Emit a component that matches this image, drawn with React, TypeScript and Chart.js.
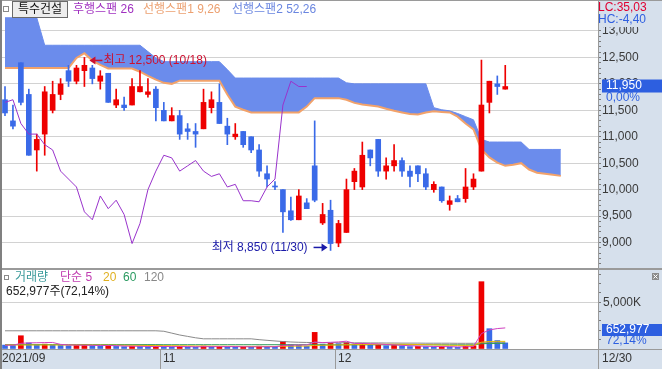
import React, { useEffect, useRef } from 'react';
import { Chart, registerables } from 'chart.js';

Chart.register(...registerables);

// ---------------- data ----------------
const stockName = '특수건설';
const dateLabels = ['2021/09', '11', '12'];
const dateLabelStartIdx = [0, 20, 42];
const lastDateLabel = '12/30';

const opens = [
  11700, 11300, 12400, 11800, 10750, 11050, 11500, 11800, 12250, 12050,
  12250, 12300, 12050, 12200, 11600, 11600, 11600, 11850, 11800, 11900,
  11500, 11300, 11400, 11150, 11100, 11150, 11550, 11650, 11200, 11000,
  11100, 11000, 10750, 10300, 10050, 10000, 9600, 9430, 9750, 10450,
  9370, 9610, 8990, 9190, 10150, 10050, 10750, 10950, 10350, 10450,
  10550, 10350, 10450, 10300, 10000, 10050, 9720, 9830, 9830, 10050,
  10350, 11650, 12000, 11900,
];
const highs = [
  11950, 11600, 12400, 11900, 11050, 11950, 12050, 12100, 12350, 12350,
  12500, 12350, 12250, 12200, 11900, 11750, 12100, 12250, 12100, 11950,
  11650, 11550, 11500, 11250, 11250, 11900, 11850, 12000, 11350, 11250,
  11100, 11000, 10850, 10450, 10150, 10000, 9860, 10000, 9830, 11300,
  9740, 9800, 9420, 10200, 10400, 10900, 10750, 10950, 10600, 10850,
  10600, 10450, 10450, 10400, 10150, 10050, 9880, 9890, 10400, 10300,
  12450, 12050, 12150, 12350,
];
const lows = [
  11400, 11150, 11600, 10650, 10350, 10650, 11450, 11700, 11950, 12000,
  11950, 12000, 11900, 11650, 11550, 11500, 11600, 11850, 11750, 11300,
  11300, 11300, 10950, 10950, 10800, 11150, 11450, 11250, 10850, 10950,
  10800, 10700, 10250, 10050, 10000, 9190, 9420, 9430, 9640, 9770,
  9340, 8850, 8920, 9190, 10000, 10000, 10450, 10250, 10200, 10350,
  10250, 10050, 10150, 10000, 9950, 9760, 9610, 9770, 9760, 10000,
  10350, 11450, 11800, 11900,
];
const closes = [
  11450, 11200, 11650, 10650, 10950, 11850, 11800, 12000, 12050, 12300,
  12350, 12100, 12150, 11650, 11700, 11550, 11950, 11950, 11850, 11550,
  11300, 11400, 11050, 11100, 11050, 11650, 11700, 11250, 11050, 11050,
  10850, 10750, 10350, 10200, 10050, 9580, 9430, 9880, 9640, 9800,
  9530, 8980, 9360, 10000, 10350, 10650, 10600, 10350, 10450, 10550,
  10350, 10250, 10300, 10050, 10100, 9790, 9790, 9770, 10050, 10200,
  11600, 12050, 11950, 11950,
];

// 선행스팬1 (lower, orange edge) and 선행스팬2 (upper) – shifted cloud, index 0..70
const leadSpan1 = [
  12300, 12300, 12300, 12300, 12300, 12300, 12300, 12300, 12300, 12490,
  12580, 12440, 12360, 12290, 12290, 12290, 12290, 12230, 12150, 12080,
  12020, 12000, 12060, 12060, 12060, 12060, 12060, 12060, 11800, 11570,
  11510, 11460, 11460, 11460, 11460, 11460, 11460, 11460, 11570, 11730,
  11730, 11730, 11730, 11700, 11640, 11610, 11590, 11570, 11530, 11490,
  11460, 11430, 11420, 11460, 11480, 11470, 11460, 11380, 11250, 11140,
  10760, 10610, 10510, 10450, 10470, 10500, 10380, 10320, 10300, 10280,
  10260,
];
const leadSpan2 = [
  13250, 13250, 13250, 13250, 13250, 12730, 12730, 12730, 12730, 12730,
  12730, 12730, 12730, 12730, 12730, 12730, 12730, 12730, 12610, 12490,
  12420, 12420, 12420, 12420, 12420, 12420, 12420, 12420, 12270, 12110,
  12110, 12110, 12110, 12110, 12110, 12110, 12110, 12110, 12110, 12110,
  12110, 12110, 12110, 12020, 12000, 12000, 12000, 12000, 12000, 12000,
  12000, 12000, 12000, 12000, 11550, 11510, 11490, 11440, 11380, 11320,
  10950, 10900, 10900, 10900, 10900, 10900, 10760, 10760, 10760, 10760,
  10760,
];

const volumes = [
  420000, 380000, 1420000, 650000, 480000, 520000, 430000, 380000, 350000, 400000,
  460000, 380000, 300000, 350000, 280000, 250000, 300000, 270000, 240000, 290000,
  260000, 230000, 280000, 220000, 200000, 310000, 260000, 280000, 240000, 200000,
  230000, 210000, 300000, 260000, 220000, 820000, 450000, 380000, 300000, 1780000,
  520000, 600000, 580000, 700000, 520000, 600000, 420000, 480000, 350000, 380000,
  300000, 260000, 290000, 250000, 230000, 270000, 220000, 180000, 300000, 350000,
  7207000, 2174000, 905140, 652977,
];
// moving averages of volume (thousands of shares)
const volMa5 = [
  410, 400, 604, 654, 670, 690, 700, 492, 432, 416,
  404, 394, 378, 378, 354, 312, 296, 290, 268, 270,
  272, 258, 260, 256, 238, 248, 254, 254, 258, 258,
  242, 232, 236, 240, 244, 362, 410, 426, 434, 746,
  686, 716, 756, 836, 584, 600, 564, 544, 474, 446,
  386, 354, 316, 296, 266, 260, 252, 230, 240, 264,
  1651, 2042, 2187, 2258,
];
const volMa20 = [
  430, 430, 430, 430, 430, 430, 430, 430, 430, 430,
  430, 425, 420, 415, 410, 400, 395, 385, 375, 370,
  360, 350, 345, 330, 320, 310, 300, 295, 290, 285,
  280, 275, 272, 270, 268, 295, 305, 310, 312, 385,
  400, 415, 430, 450, 462, 480, 488, 498, 503, 510,
  505, 495, 480, 460, 440, 420, 400, 390, 390, 390,
  724, 803, 819, 817,
];
const volMa60 = [
  470, 470, 470, 470, 470, 470, 470, 470, 470, 470,
  470, 470, 470, 470, 470, 470, 470, 470, 470, 470,
  460, 460, 460, 460, 460, 460, 460, 460, 460, 460,
  460, 460, 460, 460, 460, 460, 460, 460, 460, 460,
  450, 450, 450, 450, 450, 450, 450, 450, 450, 450,
  450, 450, 450, 450, 450, 450, 450, 450, 450, 450,
  560, 590, 600, 605,
];
const volMa120 = [
  1950, 1950, 1950, 1950, 1950, 1950, 1950, 1950, 1950, 1950,
  1950, 1950, 1950, 1950, 1950, 1950, 1950, 1950, 1950, 1950,
  1900, 1700, 1500, 1350, 1200, 1090, 1090, 1090, 1090, 1090,
  1090, 1090, 1000, 930, 860, 800, 750, 720, 700, 690,
  680, 680, 670, 670, 660, 660, 650, 650, 640, 640,
  630, 630, 630, 620, 620, 620, 620, 610, 610, 610,
  650, 660, 665, 668,
];

const priceMajorTicks = [9000, 9500, 10000, 10500, 11000, 11500, 12000, 12500, 13000];
const volumeMajorTicks = [5000000];

const highMark = { idx: 10, value: 12500, text: '최고 12,500 (10/18)' };
const lowMark = { idx: 41, value: 8850, text: '최저 8,850 (11/30)' };
const lastVolumeText = '652,977';
const lastVolumePct = '72,14%';
const lastPriceChange = '0,00%';

// ---------------- style ----------------
const FONT = "'Liberation Sans', 'Noto Sans CJK KR', sans-serif";
const RED = '#ee0000';
const BLUE = '#3a6ae8';
const CLOUD = '#6b8cec';
const ORANGE = '#f2a26a';
const PURPLE = '#9933cc';
const GRID = '#d2d2d2';
const AXIS_BG = '#d6e0ec';
const BORDER = '#9a9a9a';
const X_MIN = -0.63;
const X_MAX = 74.68;
const AXIS_W = 64;

const fmt = (v: number) => v.toLocaleString('en-US');
const idxs = opens.map((_, i) => i);
const candleColors = idxs.map((i) => {
  if (closes[i] > opens[i]) return RED;
  if (closes[i] < opens[i]) return BLUE;
  return i > 0 && closes[i] < closes[i - 1] ? BLUE : RED;
});
const volColors = volumes.map((v, i) => (i > 0 && v >= volumes[i - 1] ? RED : BLUE));
const LAG = 25;

function text(ctx: CanvasRenderingContext2D, s: string, x: number, y: number, color: string, align: CanvasTextAlign = 'left', size = 12) {
  ctx.font = `${size}px ${FONT}`;
  ctx.fillStyle = color;
  ctx.textAlign = align;
  ctx.textBaseline = 'middle';
  ctx.fillText(s, x, y);
}

function arrow(ctx: CanvasRenderingContext2D, x1: number, x2: number, y: number, color: string) {
  // shaft from x1 to x2, head at x2
  ctx.strokeStyle = color;
  ctx.fillStyle = color;
  ctx.lineWidth = 1.5;
  const dir = x2 > x1 ? 1 : -1;
  ctx.beginPath();
  ctx.moveTo(x1, y);
  ctx.lineTo(x2 - dir * 5, y);
  ctx.stroke();
  ctx.beginPath();
  ctx.moveTo(x2, y);
  ctx.lineTo(x2 - dir * 6, y - 4);
  ctx.lineTo(x2 - dir * 6, y + 4);
  ctx.closePath();
  ctx.fill();
}

const pricePlugin = {
  id: 'pricePanel',
  beforeDraw(chart: any) {
    const { ctx, width, height, chartArea } = chart;
    ctx.save();
    ctx.fillStyle = '#ffffff';
    ctx.fillRect(0, 0, width, height);
    ctx.fillStyle = AXIS_BG;
    ctx.fillRect(chartArea.right, 0, width - chartArea.right, height);
    ctx.restore();
  },
  afterDraw(chart: any) {
    const { ctx, width, height, chartArea, scales } = chart;
    const xs = scales.x;
    const ys = scales.y;
    ctx.save();
    // frame
    ctx.fillStyle = BORDER;
    ctx.fillRect(0, 0, width, 1);
    ctx.fillRect(0, height - 1, width, 1);
    ctx.fillRect(chartArea.right, 0, 1, height);
    ctx.fillStyle = '#808080';
    ctx.fillRect(0, 0, 2, height);

    // header
    ctx.fillStyle = '#ffffff';
    ctx.fillRect(3, 6, 6, 6);
    ctx.strokeStyle = '#8a8a8a';
    ctx.lineWidth = 1;
    ctx.strokeRect(3.5, 6.5, 5, 5);
    ctx.fillStyle = '#ededed';
    ctx.fillRect(12, 1, 56, 17);
    ctx.strokeStyle = '#6a6a6a';
    ctx.strokeRect(12.5, 1.5, 55, 16);
    text(ctx, stockName, 40, 10, '#111111', 'center');
    text(ctx, '후행스팬 26', 73, 10, '#a030c0');
    text(ctx, '선행스팬1 9,26', 143, 10, '#eca070');
    text(ctx, '선행스팬2 52,26', 232, 10, '#6a86e0');

    // high / low marks
    const hx = xs.getPixelForValue(highMark.idx);
    const hy = ys.getPixelForValue(highMark.value) + 3;
    arrow(ctx, hx + 18, hx + 5, hy, '#cc1030');
    text(ctx, highMark.text, hx + 19, hy, '#cc1030');
    const lx = xs.getPixelForValue(lowMark.idx);
    const ly = ys.getPixelForValue(lowMark.value) - 3;
    arrow(ctx, lx - 17, lx - 3, ly, '#1a1aa8');
    text(ctx, lowMark.text, lx - 23, ly, '#1a1aa8', 'right');

    // LC / HC
    ctx.fillStyle = AXIS_BG;
    ctx.fillRect(chartArea.right + 1, 1, width - chartArea.right - 1, 26);
    text(ctx, 'LC:35,03', chartArea.right, 8, '#e00030');
    text(ctx, 'HC:-4,40', chartArea.right, 20, '#3060e0');

    // current price box
    const last = closes[closes.length - 1];
    const py = ys.getPixelForValue(last);
    ctx.fillStyle = '#2d5fe0';
    ctx.fillRect(chartArea.right + 4, py - 7, width - chartArea.right - 4, 13);
    text(ctx, fmt(last), chartArea.right + 8, py - 0.5, '#ffffff');
    text(ctx, lastPriceChange, chartArea.right + 8, py + 11, '#2d5fe0');
    ctx.restore();
  },
};

const volumePlugin = {
  id: 'volumePanel',
  beforeDraw(chart: any) {
    const { ctx, width, height, chartArea } = chart;
    ctx.save();
    ctx.fillStyle = '#ffffff';
    ctx.fillRect(0, 0, width, height);
    ctx.fillStyle = AXIS_BG;
    ctx.fillRect(chartArea.right, 0, width - chartArea.right, height);
    ctx.fillRect(0, chartArea.bottom, width, height - chartArea.bottom);
    ctx.restore();
  },
  afterDraw(chart: any) {
    const { ctx, width, height, chartArea, scales } = chart;
    const xs = scales.x;
    ctx.save();
    ctx.fillStyle = BORDER;
    ctx.fillRect(0, 0, width, 1);
    ctx.fillRect(0, chartArea.bottom, width, 1);
    ctx.fillRect(chartArea.right, 0, 1, height);
    ctx.fillStyle = '#808080';
    ctx.fillRect(0, 0, 2, height);

    // date strip
    const sy = chartArea.bottom + 10;
    dateLabels.forEach((lab, k) => {
      const sx = xs.getPixelForValue(dateLabelStartIdx[k] - 0.5);
      if (k > 0) {
        ctx.fillStyle = BORDER;
        ctx.fillRect(Math.round(sx), chartArea.bottom, 1, height - chartArea.bottom);
      }
      text(ctx, lab, k === 0 ? 2 : Math.round(sx) + 3, sy, '#333333');
    });
    text(ctx, lastDateLabel, chartArea.right + 4, sy, '#333333');

    // header
    ctx.fillStyle = '#ffffff';
    ctx.fillRect(4, 6, 5, 5);
    ctx.strokeStyle = '#8a8a8a';
    ctx.lineWidth = 1;
    ctx.strokeRect(4.5, 6.5, 4, 4);
    text(ctx, '거래량', 15, 9, '#3a9a9a');
    text(ctx, '단순 5', 60, 9, '#c03cb0');
    text(ctx, '20', 103, 9, '#e0b020');
    text(ctx, '60', 123, 9, '#2a9a60');
    text(ctx, '120', 144, 9, '#888888');
    text(ctx, '652,977주(72,14%)', 6, 23, '#222222');

    // close icon
    ctx.fillStyle = '#8c8c8c';
    ctx.fillRect(width - 10, 4, 7, 7);
    ctx.strokeStyle = '#ffffff';
    ctx.beginPath();
    ctx.moveTo(width - 8.5, 5.5); ctx.lineTo(width - 4.5, 9.5);
    ctx.moveTo(width - 4.5, 5.5); ctx.lineTo(width - 8.5, 9.5);
    ctx.stroke();

    // last volume box
    ctx.fillStyle = '#2d5fe0';
    ctx.fillRect(chartArea.right + 4, 55, width - chartArea.right - 4, 12);
    text(ctx, lastVolumeText, chartArea.right + 8, 61, '#ffffff');
    text(ctx, lastVolumePct, chartArea.right + 8, 72, '#2d5fe0');
    ctx.restore();
  },
};

function priceConfig(): any {
  const priceTicks: number[] = [];
  for (let v = 8600; v <= 13500; v += 100) priceTicks.push(v);
  return {
    type: 'bar',
    data: {
      datasets: [
        {
          type: 'line', label: 'span1',
          data: leadSpan1.map((v, i) => ({ x: i, y: v })),
          borderColor: ORANGE, borderWidth: 2, pointRadius: 0, fill: false, order: 20,
        },
        {
          type: 'line', label: 'span2',
          data: leadSpan2.map((v, i) => ({ x: i, y: v })),
          borderColor: CLOUD, borderWidth: 1, pointRadius: 0,
          fill: { target: 0, above: CLOUD, below: CLOUD }, order: 21,
        },
        {
          type: 'bar', label: 'wick',
          data: idxs.map((i) => ({ x: i, y: [lows[i], highs[i]] })),
          backgroundColor: candleColors, barThickness: 1, grouped: false, order: 5,
        },
        {
          type: 'bar', label: 'body',
          data: idxs.map((i) => ({ x: i, y: [opens[i], closes[i]] })),
          backgroundColor: candleColors, barThickness: 5, grouped: false, minBarLength: 1, order: 4,
        },
        {
          type: 'line', label: 'lag',
          data: closes.slice(LAG).map((v, i) => ({ x: i, y: v })),
          borderColor: PURPLE, borderWidth: 1, pointRadius: 0, fill: false, order: 1,
        },
      ],
    },
    options: {
      responsive: false,
      maintainAspectRatio: false,
      animation: false,
      events: [],
      layout: { padding: { top: 1, bottom: 1, left: 0, right: 0 } },
      plugins: { legend: { display: false }, tooltip: { enabled: false } },
      scales: {
        x: { type: 'linear', min: X_MIN, max: X_MAX, offset: false, display: false, grid: { offset: false } },
        y: {
          type: 'linear', position: 'right', min: 8518, max: 13567,
          afterBuildTicks: (s: any) => { s.ticks = priceTicks.map((v) => ({ value: v })); },
          afterFit: (s: any) => { s.width = AXIS_W; s.paddingTop = 0; s.paddingBottom = 0; },
          ticks: {
            autoSkip: false, padding: 1, color: '#3a3a3a',
            font: { family: FONT, size: 12 },
            callback: (v: number) => (priceMajorTicks.includes(v) ? fmt(v) : ''),
          },
          grid: {
            color: (c: any) => (c.tick && priceMajorTicks.includes(c.tick.value) ? GRID : 'rgba(0,0,0,0)'),
            tickColor: '#7a7a7a', tickLength: 3, lineWidth: 1,
          },
          border: { display: true, color: BORDER },
        },
      },
    },
    plugins: [pricePlugin],
  };
}

function volumeConfig(): any {
  const volTicks: number[] = [];
  for (let v = 0; v <= 8000000; v += 1000000) volTicks.push(v);
  const line = (arr: number[], color: string, order: number) => ({
    type: 'line', data: arr.map((v, i) => ({ x: i, y: v * 1000 })),
    borderColor: color, borderWidth: 1, pointRadius: 0, fill: false, order,
  });
  return {
    type: 'bar',
    data: {
      datasets: [
        {
          type: 'bar', label: 'vol',
          data: volumes.map((v, i) => ({ x: i, y: v })),
          backgroundColor: volColors, barThickness: 5, grouped: false, minBarLength: 1, order: 10,
        },
        line(volMa120, '#8a8a8a', 5),
        line(volMa60, '#2e9a5a', 4),
        line(volMa20, '#e8b800', 3),
        line(volMa5, '#d040c0', 2),
      ],
    },
    options: {
      responsive: false,
      maintainAspectRatio: false,
      animation: false,
      events: [],
      layout: { padding: { top: 1, bottom: 20, left: 0, right: 0 } },
      plugins: { legend: { display: false }, tooltip: { enabled: false } },
      scales: {
        x: { type: 'linear', min: X_MIN, max: X_MAX, offset: false, display: false, grid: { offset: false } },
        y: {
          type: 'linear', position: 'right', min: 0, max: 8458000,
          afterBuildTicks: (s: any) => { s.ticks = volTicks.map((v) => ({ value: v })); },
          afterFit: (s: any) => { s.width = AXIS_W; s.paddingTop = 0; s.paddingBottom = 0; },
          ticks: {
            autoSkip: false, padding: 2, color: '#3a3a3a',
            font: { family: FONT, size: 12 },
            callback: (v: number) => (volumeMajorTicks.includes(v) ? fmt(v / 1000) + 'K' : ''),
          },
          grid: {
            color: (c: any) => (c.tick && volumeMajorTicks.includes(c.tick.value) ? GRID : 'rgba(0,0,0,0)'),
            tickColor: '#7a7a7a', tickLength: 3, lineWidth: 1,
          },
          border: { display: true, color: BORDER },
        },
      },
    },
    plugins: [volumePlugin],
  };
}

export default function App() {
  const pRef = useRef<HTMLCanvasElement>(null);
  const vRef = useRef<HTMLCanvasElement>(null);
  useEffect(() => {
    document.body.style.margin = '0';
    const pc = new Chart(pRef.current as HTMLCanvasElement, priceConfig());
    const vc = new Chart(vRef.current as HTMLCanvasElement, volumeConfig());
    return () => {
      pc.destroy();
      vc.destroy();
    };
  }, []);
  return (
    <div style={{ width: 662, height: 369, position: 'relative', overflow: 'hidden', background: '#fff' }}>
      <canvas ref={pRef} width={662} height={269} style={{ display: 'block', width: 662, height: 269 }} />
      <canvas ref={vRef} width={662} height={100} style={{ display: 'block', width: 662, height: 100 }} />
    </div>
  );
}
